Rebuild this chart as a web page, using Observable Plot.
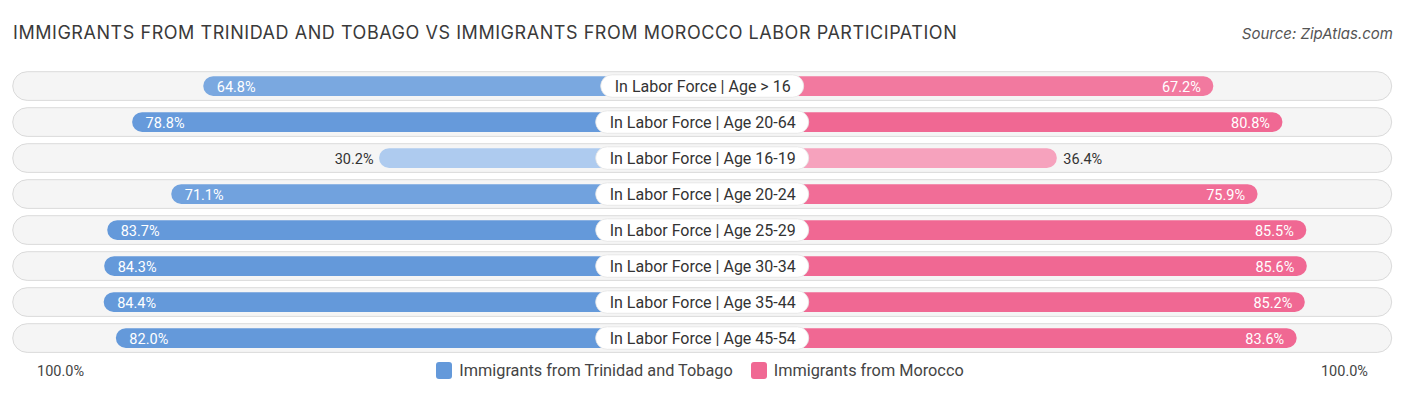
<!DOCTYPE html>
<html>
<head>
<meta charset="utf-8">
<script src="https://cdn.jsdelivr.net/npm/d3@7"></script>
<script src="https://cdn.jsdelivr.net/npm/@observablehq/plot@0.6"></script>
<style>
  html, body { margin: 0; padding: 0; background: #fff; }
  #wrap { position: relative; width: 1406px; height: 395px; font-family: Roboto, "Noto Sans", sans-serif; overflow: hidden; }
  #header { position: relative; height: 62px; }
  #title { position: absolute; left: 13px; top: 22px; font-family: Inter, "Open Sans", sans-serif; font-size: 18px; color: #3a3a3a; letter-spacing: 0.55px; white-space: nowrap; }
  #source { position: absolute; right: 13px; top: 24px; font-family: Inter, "Open Sans", sans-serif; font-style: italic; font-size: 15px; color: #555; }
  #chart svg { display: block; }
  #footer { position: relative; height: 37px; }
  #axl { position: absolute; left: 37px; top: 5px; font-size: 14.5px; color: #444; }
  #axr { position: absolute; right: 38px; top: 5px; font-size: 14.5px; color: #444; }
  #legend { position: absolute; left: 0; right: 6px; top: 3px; display: flex; justify-content: center; gap: 18px; font-size: 16.3px; color: #444; }
  .li { display: flex; align-items: center; gap: 7px; }
  .sw { width: 16px; height: 17px; border-radius: 3px; }
</style>
</head>
<body>
<div id="wrap">
  <div id="header">
    <div id="title"></div>
    <div id="source"></div>
  </div>
  <div id="chart"></div>
  <div id="footer">
    <div id="axl"></div>
    <div id="legend"></div>
    <div id="axr"></div>
  </div>
</div>
<script>
const titleText = "IMMIGRANTS FROM TRINIDAD AND TOBAGO VS IMMIGRANTS FROM MOROCCO LABOR PARTICIPATION";
const sourceText = "Source: ZipAtlas.com";
const categories = [
  "In Labor Force | Age > 16",
  "In Labor Force | Age 20-64",
  "In Labor Force | Age 16-19",
  "In Labor Force | Age 20-24",
  "In Labor Force | Age 25-29",
  "In Labor Force | Age 30-34",
  "In Labor Force | Age 35-44",
  "In Labor Force | Age 45-54"
];
const trinidad = [64.8, 78.8, 30.2, 71.1, 83.7, 84.3, 84.4, 82.0];
const morocco  = [67.2, 80.8, 36.4, 75.9, 85.5, 85.6, 85.2, 83.6];
const seriesNames = ["Immigrants from Trinidad and Tobago", "Immigrants from Morocco"];
const axisLabels = ["100.0%", "100.0%"];

document.getElementById("title").textContent = titleText;
document.getElementById("source").textContent = sourceText;
document.getElementById("axl").textContent = axisLabels[0];
document.getElementById("axr").textContent = axisLabels[1];

// layout constants
const k = 5.08;          // px per percent
const g = 33.4;          // half gap (in % units) under the center label
const M = 100 + g;
const T = M + 2.3;       // track half-extent

const blueFull = "#6499da", blueLight = "#aecbef";
const pinkFull = "#f06893", pinkLight = "#f7abc3";
function shade(v, full, light) {
  const t = Math.max(0, Math.min(1, (v - 30) / 50));
  return d3.interpolateRgb(light, full)(t);
}

// measure label widths
const ctx = document.createElement("canvas").getContext("2d");
ctx.font = "16px Roboto";
const rows = categories.map((c, i) => ({
  cat: c,
  a: trinidad[i],
  b: morocco[i],
  w: (ctx.measureText(c).width + 27) / 2 / k
}));

const inside = v => v > 45;

const plot = Plot.plot({
  width: 1406,
  height: 296,
  margin: 0,
  x: { type: "linear", domain: [-M, M], range: [24.4, 1380], axis: null },
  y: { type: "band", domain: categories, range: [5.15, 295.55], padding: 0, axis: null },
  style: { fontFamily: "Roboto, sans-serif" },
  marks: [
    Plot.rect(rows, { x1: -T, x2: T, y: "cat", insetTop: 3.7, insetBottom: 3.6, rx: 14.5, fill: "#f5f5f5", stroke: "#dadada", strokeWidth: 1 }),
    Plot.rect(rows, { x1: 0, x2: d => -(d.a + g), y: "cat", insetTop: 8.2, insetBottom: 8.1, rx: 10, fill: d => shade(d.a, blueFull, blueLight) }),
    Plot.rect(rows, { x1: 0, x2: d => (d.b + g), y: "cat", insetTop: 8.2, insetBottom: 8.1, rx: 10, fill: d => shade(d.b, pinkFull, pinkLight) }),
    Plot.rect(rows, { x1: d => -d.w, x2: d => d.w, y: "cat", insetTop: 6.8, insetBottom: 6.7, rx: 11.5, fill: "white", stroke: "#e4e4e4", strokeWidth: 0.8 }),
    Plot.text(rows, { x: 0, y: "cat", text: "cat", fontSize: 16, fill: "#333", dy: 0.5 }),
    Plot.text(rows.filter(d => inside(d.a)), { x: d => -(d.a + g), y: "cat", text: d => d.a.toFixed(1) + "%", textAnchor: "start", dx: 13, fontSize: 14.5, fill: "white", dy: 0.5 }),
    Plot.text(rows.filter(d => !inside(d.a)), { x: d => -(d.a + g), y: "cat", text: d => d.a.toFixed(1) + "%", textAnchor: "end", dx: -6, fontSize: 14.5, fill: "#333", dy: 0.5 }),
    Plot.text(rows.filter(d => inside(d.b)), { x: d => (d.b + g), y: "cat", text: d => d.b.toFixed(1) + "%", textAnchor: "end", dx: -13, fontSize: 14.5, fill: "white", dy: 0.5 }),
    Plot.text(rows.filter(d => !inside(d.b)), { x: d => (d.b + g), y: "cat", text: d => d.b.toFixed(1) + "%", textAnchor: "start", dx: 6, fontSize: 14.5, fill: "#333", dy: 0.5 })
  ]
});
document.getElementById("chart").appendChild(plot);

const legend = document.getElementById("legend");
[[seriesNames[0], blueFull], [seriesNames[1], pinkFull]].forEach(([name, col]) => {
  const li = document.createElement("div");
  li.className = "li";
  const sw = document.createElement("div");
  sw.className = "sw";
  sw.style.background = col;
  const tx = document.createElement("span");
  tx.textContent = name;
  li.appendChild(sw); li.appendChild(tx);
  legend.appendChild(li);
});
</script>
</body>
</html>
